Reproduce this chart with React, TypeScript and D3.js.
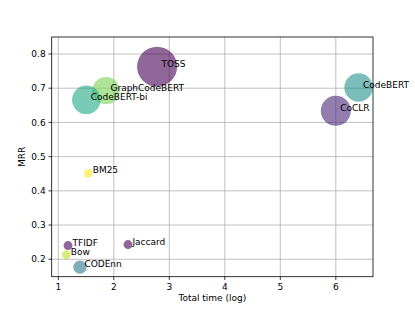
import React from "react";
import * as d3 from "d3";

const names = ["TOSS", "GraphCodeBERT", "CodeBERT-bi", "CodeBERT", "CoCLR", "BM25", "TFIDF", "Bow", "CODEnn", "Jaccard"];
const times = [2.78, 1.86, 1.505, 6.41, 6.0, 1.54, 1.175, 1.145, 1.39, 2.256];
const mrr = [0.763, 0.693, 0.666, 0.702, 0.634, 0.451, 0.24, 0.213, 0.177, 0.243];
const sizes = [400, 188, 204, 202, 225, 20, 20, 20, 45, 20];
const colors = ["#440154", "#7ad151", "#22a884", "#21918c", "#482878", "#fde725", "#440154", "#bddf26", "#2a788e", "#440154"];
const xTicks = [1, 2, 3, 4, 5, 6];
const yTicks = [0.2, 0.3, 0.4, 0.5, 0.6, 0.7, 0.8];

const W = 415, H = 311;
const L = 51.7, R = 373, T = 37, B = 276.7;

export default function App() {
  const x = d3.scaleLinear().domain([0.881, 6.67]).range([L, R]);
  const y = d3.scaleLinear().domain([0.149, 0.8497]).range([B, T]);
  const r = d3.scaleSqrt().domain([0, 400]).range([0, 20]);
  const font = "DejaVu Sans, sans-serif";
  const order = d3.range(names.length);
  return (
    <svg width={W} height={H} style={{ position: "absolute", left: 0, top: 0, background: "#fff" }} fontFamily={font}>
      <defs>
        <clipPath id="plot">
          <rect x={L} y={T} width={R - L} height={B - T} />
        </clipPath>
      </defs>
      {xTicks.map((t) => (
        <line key={"gx" + t} x1={x(t)} x2={x(t)} y1={T} y2={B} stroke="#b0b0b0" strokeWidth={0.8} />
      ))}
      {yTicks.map((t) => (
        <line key={"gy" + t} x1={L} x2={R} y1={y(t)} y2={y(t)} stroke="#b0b0b0" strokeWidth={0.8} />
      ))}
      <g clipPath="url(#plot)">
        {order.map((i) => (
          <circle key={names[i]} cx={x(times[i])} cy={y(mrr[i])} r={r(sizes[i])} fill={colors[i]} fillOpacity={0.6} />
        ))}
      </g>
      {order.map((i) => (
        <text key={"t" + names[i]} x={x(times[i] + 0.08)} y={y(mrr[i])} fontSize={9} fill="#000">
          {names[i]}
        </text>
      ))}
      <rect x={L} y={T} width={R - L} height={B - T} fill="none" stroke="#000" strokeWidth={0.8} />
      {xTicks.map((t) => (
        <g key={"xt" + t}>
          <line x1={x(t)} x2={x(t)} y1={B} y2={B + 3.2} stroke="#000" strokeWidth={0.8} />
          <text x={x(t)} y={B + 13} fontSize={9} textAnchor="middle">{t}</text>
        </g>
      ))}
      {yTicks.map((t) => (
        <g key={"yt" + t}>
          <line x1={L - 3.2} x2={L} y1={y(t)} y2={y(t)} stroke="#000" strokeWidth={0.8} />
          <text x={L - 6} y={y(t) + 3.2} fontSize={9} textAnchor="end">{t.toFixed(1)}</text>
        </g>
      ))}
      <text x={(L + R) / 2} y={301} fontSize={9} textAnchor="middle">Total time (log)</text>
      <text transform={`translate(25,${(T + B) / 2}) rotate(-90)`} fontSize={9} textAnchor="middle">MRR</text>
    </svg>
  );
}
